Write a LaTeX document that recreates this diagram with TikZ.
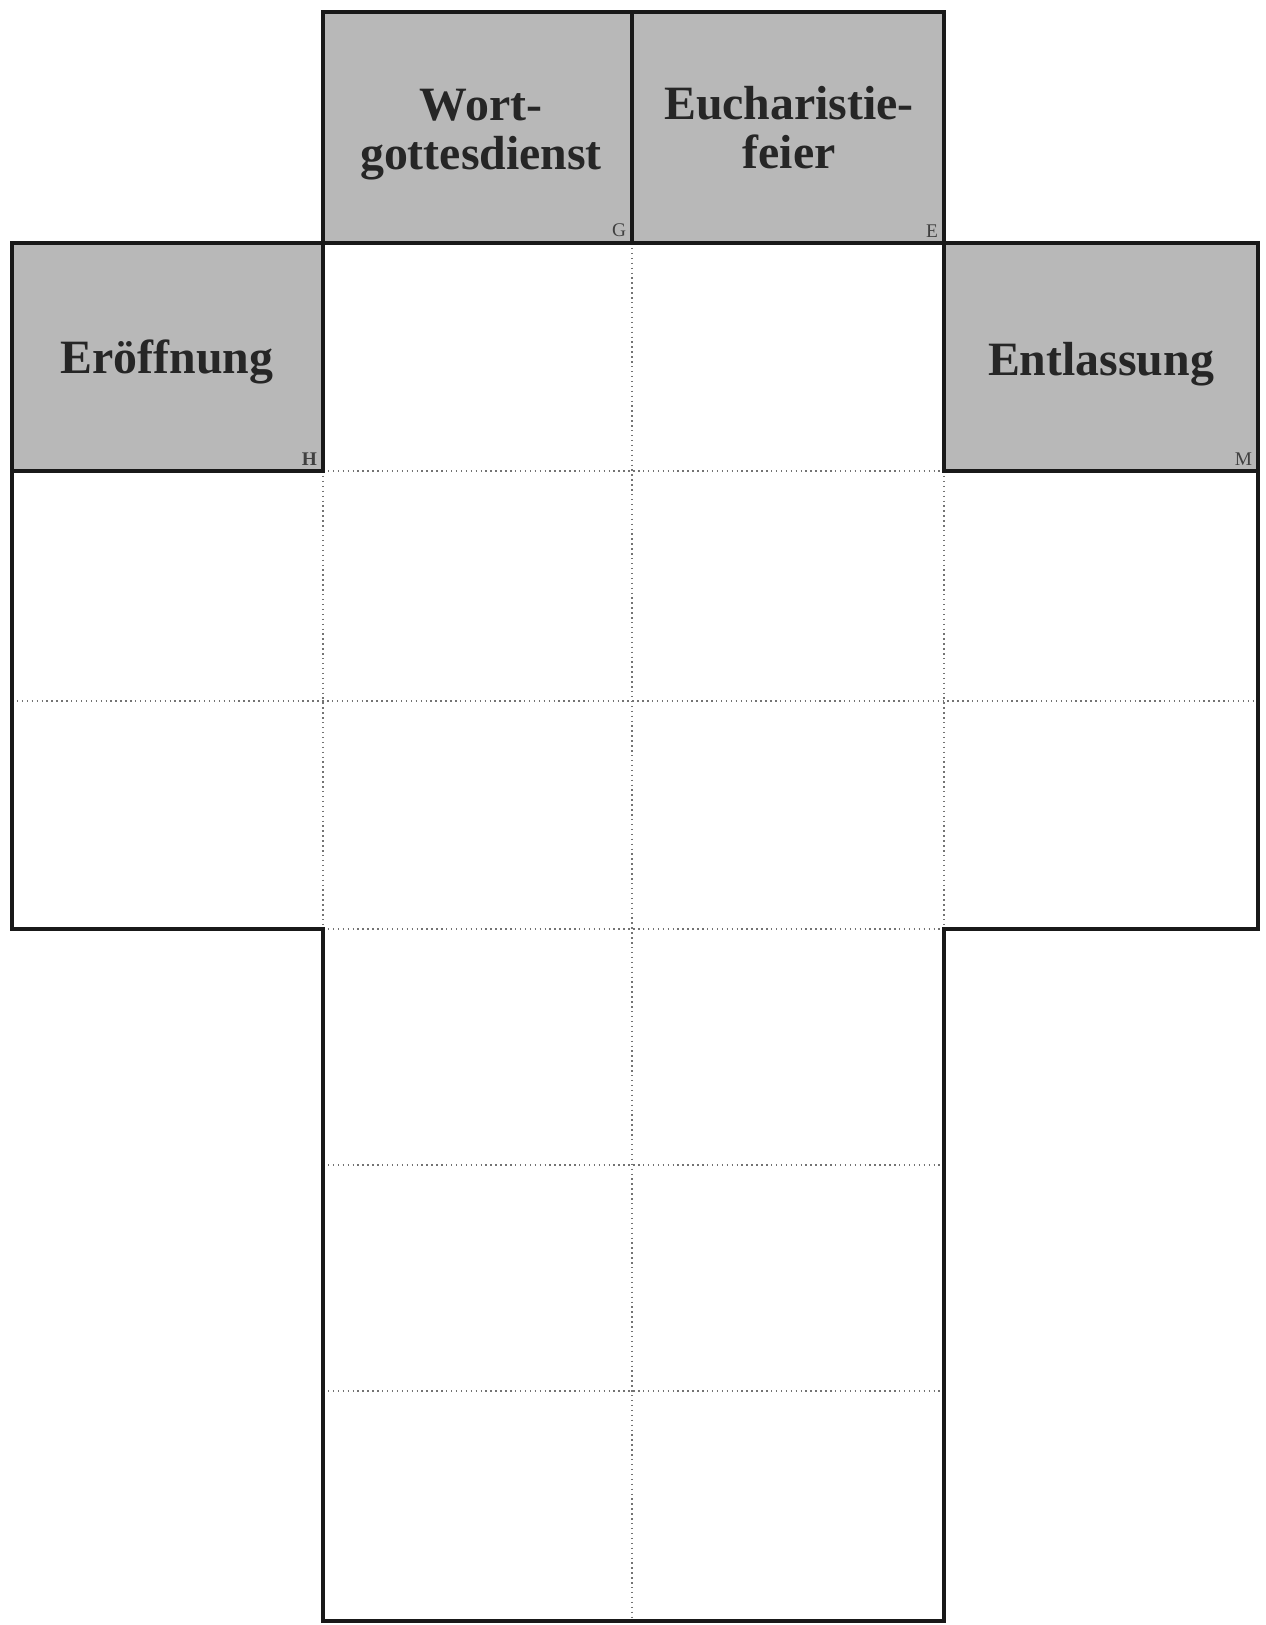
\documentclass[tikz,border=0pt]{standalone}
\usepackage{fontspec}
\setmainfont{Liberation Serif}
\usepackage{tikz}
\usetikzlibrary{calc}

\definecolor{feldgrau}{gray}{0.72}

\begin{document}
\begin{tikzpicture}[x=0.01cm,y=-0.01cm,
    rand/.style={line width=0.95pt,draw=black!90},
    gitter/.style={line width=0.4pt,draw=black!55,densely dotted},
    titel/.style={font=\fontsize{13.6}{14}\selectfont\bfseries,align=center,text=black!85},
    ecke/.style={font=\fontsize{5.5}{6}\selectfont,anchor=south east,inner sep=1.5pt,text=black!75}]
    \useasboundingbox (0,0) rectangle (1265,1625);
    % grey head cells
    \fill[feldgrau] (323,12) rectangle (944,243);
    \fill[feldgrau] (12,243) rectangle (323,471);
    \fill[feldgrau] (944,243) rectangle (1258,471);
    % thin inner grid
    \draw[gitter] (632,243) -- (632,1621);
    \draw[gitter] (323,471) -- (323,929);
    \draw[gitter] (944,471) -- (944,929);
    \draw[gitter] (323,471) -- (944,471);
    \draw[gitter] (12,701) -- (1258,701);
    \draw[gitter] (323,929) -- (944,929);
    \draw[gitter] (323,1165) -- (944,1165);
    \draw[gitter] (323,1391) -- (944,1391);
    % outer outline and head cells
    \draw[rand] (323,12) -- (944,12) -- (944,243) -- (1258,243) -- (1258,929) -- (944,929)
        -- (944,1621) -- (323,1621) -- (323,929) -- (12,929) -- (12,243) -- (323,243) -- cycle;
    \draw[rand] (632,12) -- (632,243);
    \draw[rand] (323,243) -- (944,243);
    \draw[rand] (12,471) -- (323,471) -- (323,243);
    \draw[rand] (944,243) -- (944,471) -- (1258,471);
    % labels
    \node[titel] (wort) at (481,135) {Wort-\\gottesdienst};
    \node[titel] (euch) at (789,128) {Eucharistie-\\feier};
    \node[titel] (eroeff) at (167,362) {Eröffnung};
    \node[titel] (entl) at (1101,364) {Entlassung};
    \node[ecke] (g) at (632,243) {G};
    \node[ecke] (e) at (944,243) {E};
    \node[ecke,font=\fontsize{5.5}{6}\selectfont\bfseries] (h) at (323,471) {H};
    \node[ecke] (m) at (1258,471) {M};
\end{tikzpicture}
\end{document}
